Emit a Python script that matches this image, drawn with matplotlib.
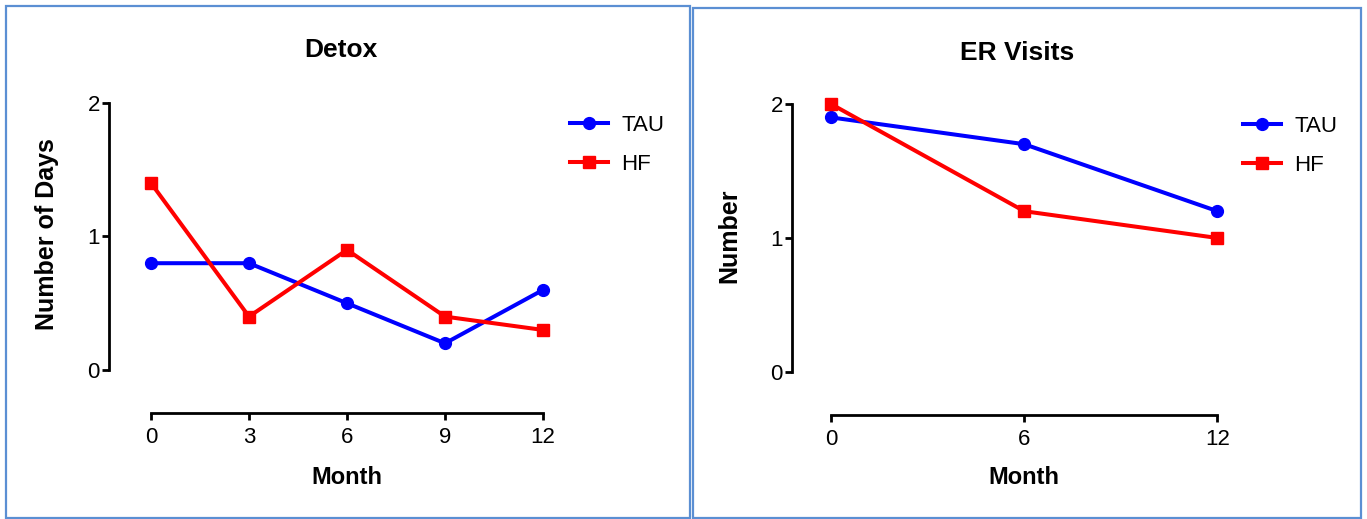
import matplotlib
matplotlib.use("Agg")
import matplotlib.pyplot as plt
from matplotlib.patches import Rectangle

plt.rcParams['font.family'] = ['Liberation Sans', 'DejaVu Sans']

# ---- data ----
detox_months = [0, 3, 6, 9, 12]
detox_tau = [0.8, 0.8, 0.5, 0.2, 0.6]
detox_hf = [1.4, 0.4, 0.9, 0.4, 0.3]

er_months = [0, 6, 12]
er_tau = [1.9, 1.7, 1.2]
er_hf = [2.0, 1.2, 1.0]

y_ticks = [0, 1, 2]
series_labels = ["TAU", "HF"]

W, H = 1367, 519
fig = plt.figure(figsize=(W / 100, H / 100), dpi=100)


def px_rect(l, t, r, b):
    return [l / W, (H - b) / H, (r - l) / W, (b - t) / H]


BLUE = "#0000FF"
RED = "#FF0000"
BORDER = "#5B8FD3"

# panel borders
for (l, t, r, b) in [(6, 6, 690, 518), (693, 8, 1361, 518)]:
    fig.patches.append(Rectangle((l / W, (H - b) / H), (r - l) / W, (b - t) / H,
                                 transform=fig.transFigure, fill=False,
                                 edgecolor=BORDER, linewidth=1.6, zorder=0))


def panel(rect, xlim, ylim, months, tau, hf, title, ylabel, title_xy, xlab_xy, ylab_xy, leg_xy):
    ax = fig.add_axes(px_rect(*rect))
    ax.plot(months, tau, color=BLUE, lw=2.9, marker='o', ms=8.5, clip_on=False,
            label=series_labels[0], zorder=3)
    ax.plot(months, hf, color=RED, lw=2.9, marker='s', ms=8.5, clip_on=False,
            label=series_labels[1], zorder=3)
    ax.set_xlim(*xlim)
    ax.set_ylim(*ylim)
    ax.set_xticks(months)
    ax.set_yticks(y_ticks)
    for s in ['top', 'right']:
        ax.spines[s].set_visible(False)
    for s in ['left', 'bottom']:
        ax.spines[s].set_linewidth(2.0)
    ax.spines['left'].set_bounds(0, 2)
    ax.spines['bottom'].set_bounds(months[0], months[-1])
    ax.tick_params(axis='both', width=2.0, length=5, labelsize=16)
    ax.tick_params(axis='y', pad=1.5)
    ax.tick_params(axis='x', pad=5)
    ax.patch.set_alpha(0)
    fig.text(title_xy[0] / W, 1 - title_xy[1] / H, title, fontsize=19, fontweight='bold',
             ha='center', va='center')
    fig.text(xlab_xy[0] / W, 1 - xlab_xy[1] / H, "Month", fontsize=17, fontweight='bold',
             ha='center', va='center')
    fig.text(ylab_xy[0] / W, 1 - ylab_xy[1] / H, ylabel, fontsize=18, fontweight='bold',
             ha='center', va='center', rotation=90)
    ax.legend(loc='upper left', bbox_to_anchor=(leg_xy[0] / W, 1 - leg_xy[1] / H),
              bbox_transform=fig.transFigure, frameon=False, fontsize=16,
              handlelength=1.7, handletextpad=0.6, labelspacing=0.8,
              borderpad=0, borderaxespad=0)
    return ax


# left panel: spine x=109, x0->151, x12->543 ; y0->370, y2->103, xaxis at 413
ppx = (543 - 151) / 12
ppy = (370 - 103) / 2
panel((109, 370 - 2.03 * ppy, 543 + 0.3 * ppx, 413),
      ((109 - 151) / ppx, 12.3), (-(413 - 370) / ppy, 2.03),
      detox_months, detox_tau, detox_hf, "Detox", "Number of Days",
      (341, 50), (347, 477), (47, 234), (570, 115))

# right panel: spine x=792, x0->831, x12->1217.5 ; y0->372, y2->104, xaxis at 415
ppx2 = (1217.5 - 831) / 12
ppy2 = (372 - 104) / 2
panel((792, 372 - 2.03 * ppy2, 1217.5 + 0.3 * ppx2, 415),
      ((792 - 831) / ppx2, 12.3), (-(415 - 372) / ppy2, 2.03),
      er_months, er_tau, er_hf, "ER Visits", "Number",
      (1017, 53), (1024, 478), (729, 236), (1243, 116))

fig.savefig("out.png", dpi=100)
